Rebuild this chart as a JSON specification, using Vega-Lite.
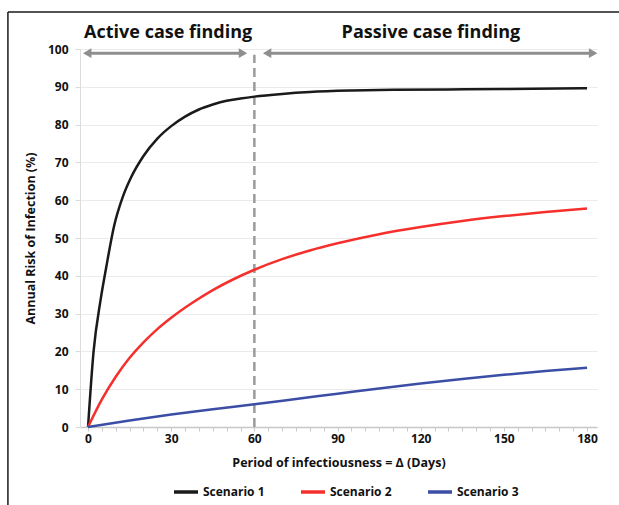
{
  "$schema": "https://vega.github.io/schema/vega-lite/v6.json",
  "autosize": "none",
  "width": 517,
  "height": 378,
  "padding": {"left": 80, "top": 49, "right": 22, "bottom": 78},
  "background": "white",
  "config": {
    "view": {"stroke": null},
    "font": "Open Sans",
    "text": {"font": "Open Sans"}
  },
  "datasets": {
    "curves": [
      {"day": 0, "risk": 0, "scenario": "Scenario 1"},
      {"day": 2, "risk": 20, "scenario": "Scenario 1"},
      {"day": 4.5, "risk": 33.5, "scenario": "Scenario 1"},
      {"day": 6.5, "risk": 42, "scenario": "Scenario 1"},
      {"day": 9.5, "risk": 53.5, "scenario": "Scenario 1"},
      {"day": 12.5, "risk": 60.8, "scenario": "Scenario 1"},
      {"day": 15.5, "risk": 66, "scenario": "Scenario 1"},
      {"day": 20, "risk": 71.7, "scenario": "Scenario 1"},
      {"day": 25, "risk": 76.3, "scenario": "Scenario 1"},
      {"day": 30, "risk": 79.6, "scenario": "Scenario 1"},
      {"day": 35, "risk": 82.1, "scenario": "Scenario 1"},
      {"day": 40, "risk": 84, "scenario": "Scenario 1"},
      {"day": 45, "risk": 85.3, "scenario": "Scenario 1"},
      {"day": 50, "risk": 86.3, "scenario": "Scenario 1"},
      {"day": 55, "risk": 86.9, "scenario": "Scenario 1"},
      {"day": 60, "risk": 87.4, "scenario": "Scenario 1"},
      {"day": 70, "risk": 88.1, "scenario": "Scenario 1"},
      {"day": 80, "risk": 88.6, "scenario": "Scenario 1"},
      {"day": 95, "risk": 89, "scenario": "Scenario 1"},
      {"day": 110, "risk": 89.2, "scenario": "Scenario 1"},
      {"day": 130, "risk": 89.3, "scenario": "Scenario 1"},
      {"day": 150, "risk": 89.4, "scenario": "Scenario 1"},
      {"day": 180, "risk": 89.6, "scenario": "Scenario 1"},
      {"day": 0, "risk": 0, "scenario": "Scenario 2"},
      {"day": 5, "risk": 7.3, "scenario": "Scenario 2"},
      {"day": 10, "risk": 13.3, "scenario": "Scenario 2"},
      {"day": 15, "risk": 18.3, "scenario": "Scenario 2"},
      {"day": 20, "risk": 22.4, "scenario": "Scenario 2"},
      {"day": 25, "risk": 25.9, "scenario": "Scenario 2"},
      {"day": 30, "risk": 28.9, "scenario": "Scenario 2"},
      {"day": 37.5, "risk": 32.8, "scenario": "Scenario 2"},
      {"day": 45, "risk": 36.2, "scenario": "Scenario 2"},
      {"day": 60, "risk": 41.6, "scenario": "Scenario 2"},
      {"day": 70, "risk": 44.4, "scenario": "Scenario 2"},
      {"day": 80, "risk": 46.7, "scenario": "Scenario 2"},
      {"day": 90, "risk": 48.6, "scenario": "Scenario 2"},
      {"day": 105, "risk": 51, "scenario": "Scenario 2"},
      {"day": 120, "risk": 52.9, "scenario": "Scenario 2"},
      {"day": 135, "risk": 54.5, "scenario": "Scenario 2"},
      {"day": 150, "risk": 55.8, "scenario": "Scenario 2"},
      {"day": 165, "risk": 56.9, "scenario": "Scenario 2"},
      {"day": 180, "risk": 57.8, "scenario": "Scenario 2"},
      {"day": 0, "risk": 0, "scenario": "Scenario 3"},
      {"day": 15, "risk": 1.7, "scenario": "Scenario 3"},
      {"day": 30, "risk": 3.3, "scenario": "Scenario 3"},
      {"day": 45, "risk": 4.7, "scenario": "Scenario 3"},
      {"day": 60, "risk": 6.0, "scenario": "Scenario 3"},
      {"day": 75, "risk": 7.4, "scenario": "Scenario 3"},
      {"day": 90, "risk": 8.8, "scenario": "Scenario 3"},
      {"day": 105, "risk": 10.2, "scenario": "Scenario 3"},
      {"day": 120, "risk": 11.5, "scenario": "Scenario 3"},
      {"day": 135, "risk": 12.7, "scenario": "Scenario 3"},
      {"day": 150, "risk": 13.8, "scenario": "Scenario 3"},
      {"day": 165, "risk": 14.8, "scenario": "Scenario 3"},
      {"day": 180, "risk": 15.7, "scenario": "Scenario 3"}
    ],
    "frame": [
      {"day": -28.9, "day2": 192, "risk": 109.8, "risk2": 109.8},
      {"day": -28.9, "day2": -28.9, "risk": 109.8, "risk2": -21}
    ],
    "divider": [{"day": 60, "risk": 0, "risk2": 98.5}],
    "arrows": [
      {"day": -0.5, "day2": 56, "risk": 98.9},
      {"day": 64.4, "day2": 182.4, "risk": 98.9}
    ],
    "heads": [
      {"day": -0.3, "risk": 98.9, "dir": "left"},
      {"day": 55.9, "risk": 98.9, "dir": "right"},
      {"day": 64.6, "risk": 98.9, "dir": "left"},
      {"day": 182.2, "risk": 98.9, "dir": "right"}
    ],
    "phases": [
      {"day": 28.9, "risk": 104.3, "label": "Active case finding"},
      {"day": 123.7, "risk": 104.3, "label": "Passive case finding"}
    ]
  },
  "encoding": {
    "x": {
      "field": "day", "type": "quantitative",
      "scale": {"domain": [-2.9, 183.6], "nice": false, "zero": false},
      "axis": {
        "title": "Period of infectiousness = Δ (Days)",
        "values": [0,5,10,15,20,25,30,35,40,45,50,55,60,65,70,75,80,85,90,95,100,105,110,115,120,125,130,135,140,145,150,155,160,165,170,175,180],
        "labelExpr": "datum.value % 30 === 0 ? datum.label : ''",
        "labelOverlap": false,
        "labelFlush": false,
        "grid": false,
        "domainColor": "#c8c8c8",
        "domainWidth": 1.5,
        "tickColor": "#c8c8c8",
        "tickSize": 4,
        "tickWidth": 1,
        "labelFont": "Open Sans",
        "labelFontWeight": "bold",
        "labelFontSize": 12,
        "labelColor": "#111111",
        "labelPadding": 2,
        "titleFont": "Open Sans",
        "titleFontWeight": "bold",
        "titleFontSize": 12.5,
        "titleColor": "#111111",
        "titlePadding": 12
      }
    },
    "y": {
      "field": "risk", "type": "quantitative",
      "scale": {"domain": [0, 100], "nice": false},
      "axis": {
        "title": "Annual Risk of Infection (%)",
        "values": [0,10,20,30,40,50,60,70,80,90,100],
        "labelOverlap": false,
        "grid": true,
        "gridColor": "#ebebeb",
        "gridWidth": 1,
        "domainColor": "#dcdcdc",
        "tickColor": "#dcdcdc",
        "tickSize": 5,
        "labelFont": "Open Sans",
        "labelFontWeight": "bold",
        "labelFontSize": 12,
        "labelColor": "#111111",
        "labelPadding": 7,
        "titleFont": "Open Sans",
        "titleFontWeight": "bold",
        "titleFontSize": 12.5,
        "titleColor": "#111111",
        "titlePadding": 10
      }
    }
  },
  "layer": [
    {
      "data": {"name": "frame"},
      "mark": {"type": "rule", "color": "#1a1a1a", "strokeWidth": 1.5, "clip": false},
      "encoding": {
        "x2": {"field": "day2"},
        "y2": {"field": "risk2"}
      }
    },
    {
      "data": {"name": "divider"},
      "mark": {"type": "rule", "color": "#9a9a9a", "strokeWidth": 2.5, "strokeDash": [9, 5]},
      "encoding": {
        "y2": {"field": "risk2"}
      }
    },
    {
      "data": {"name": "arrows"},
      "mark": {"type": "rule", "color": "#8f8f8f", "strokeWidth": 3},
      "encoding": {
        "x2": {"field": "day2"}
      }
    },
    {
      "data": {"name": "heads"},
      "mark": {"type": "point", "filled": true, "color": "#8f8f8f", "opacity": 1, "size": 95},
      "encoding": {
        "shape": {"field": "dir", "type": "nominal", "legend": null,
          "scale": {"domain": ["left", "right"], "range": ["triangle-left", "triangle-right"]}}
      }
    },
    {
      "data": {"name": "phases"},
      "mark": {"type": "text", "font": "Open Sans", "fontWeight": "bold", "fontSize": 18, "color": "#111111", "baseline": "middle", "align": "center"},
      "encoding": {
        "text": {"field": "label"}
      }
    },
    {
      "data": {"name": "curves"},
      "mark": {"type": "line", "interpolate": "monotone", "strokeWidth": 2.5},
      "encoding": {
        "color": {
          "field": "scenario", "type": "nominal",
          "scale": {"domain": ["Scenario 1", "Scenario 2", "Scenario 3"], "range": ["#1a1a1a", "#f5302c", "#3b4ea6"]},
          "legend": {
            "title": null,
            "orient": "none",
            "direction": "horizontal",
            "legendX": 92,
            "legendY": 429,
            "symbolType": "stroke",
            "symbolSize": 576,
            "symbolStrokeWidth": 3.5,
            "labelFont": "Open Sans",
            "labelFontWeight": "bold",
            "labelFontSize": 12,
            "labelColor": "#111111",
            "labelOffset": 3,
            "columnPadding": 29
          }
        }
      }
    }
  ]
}
